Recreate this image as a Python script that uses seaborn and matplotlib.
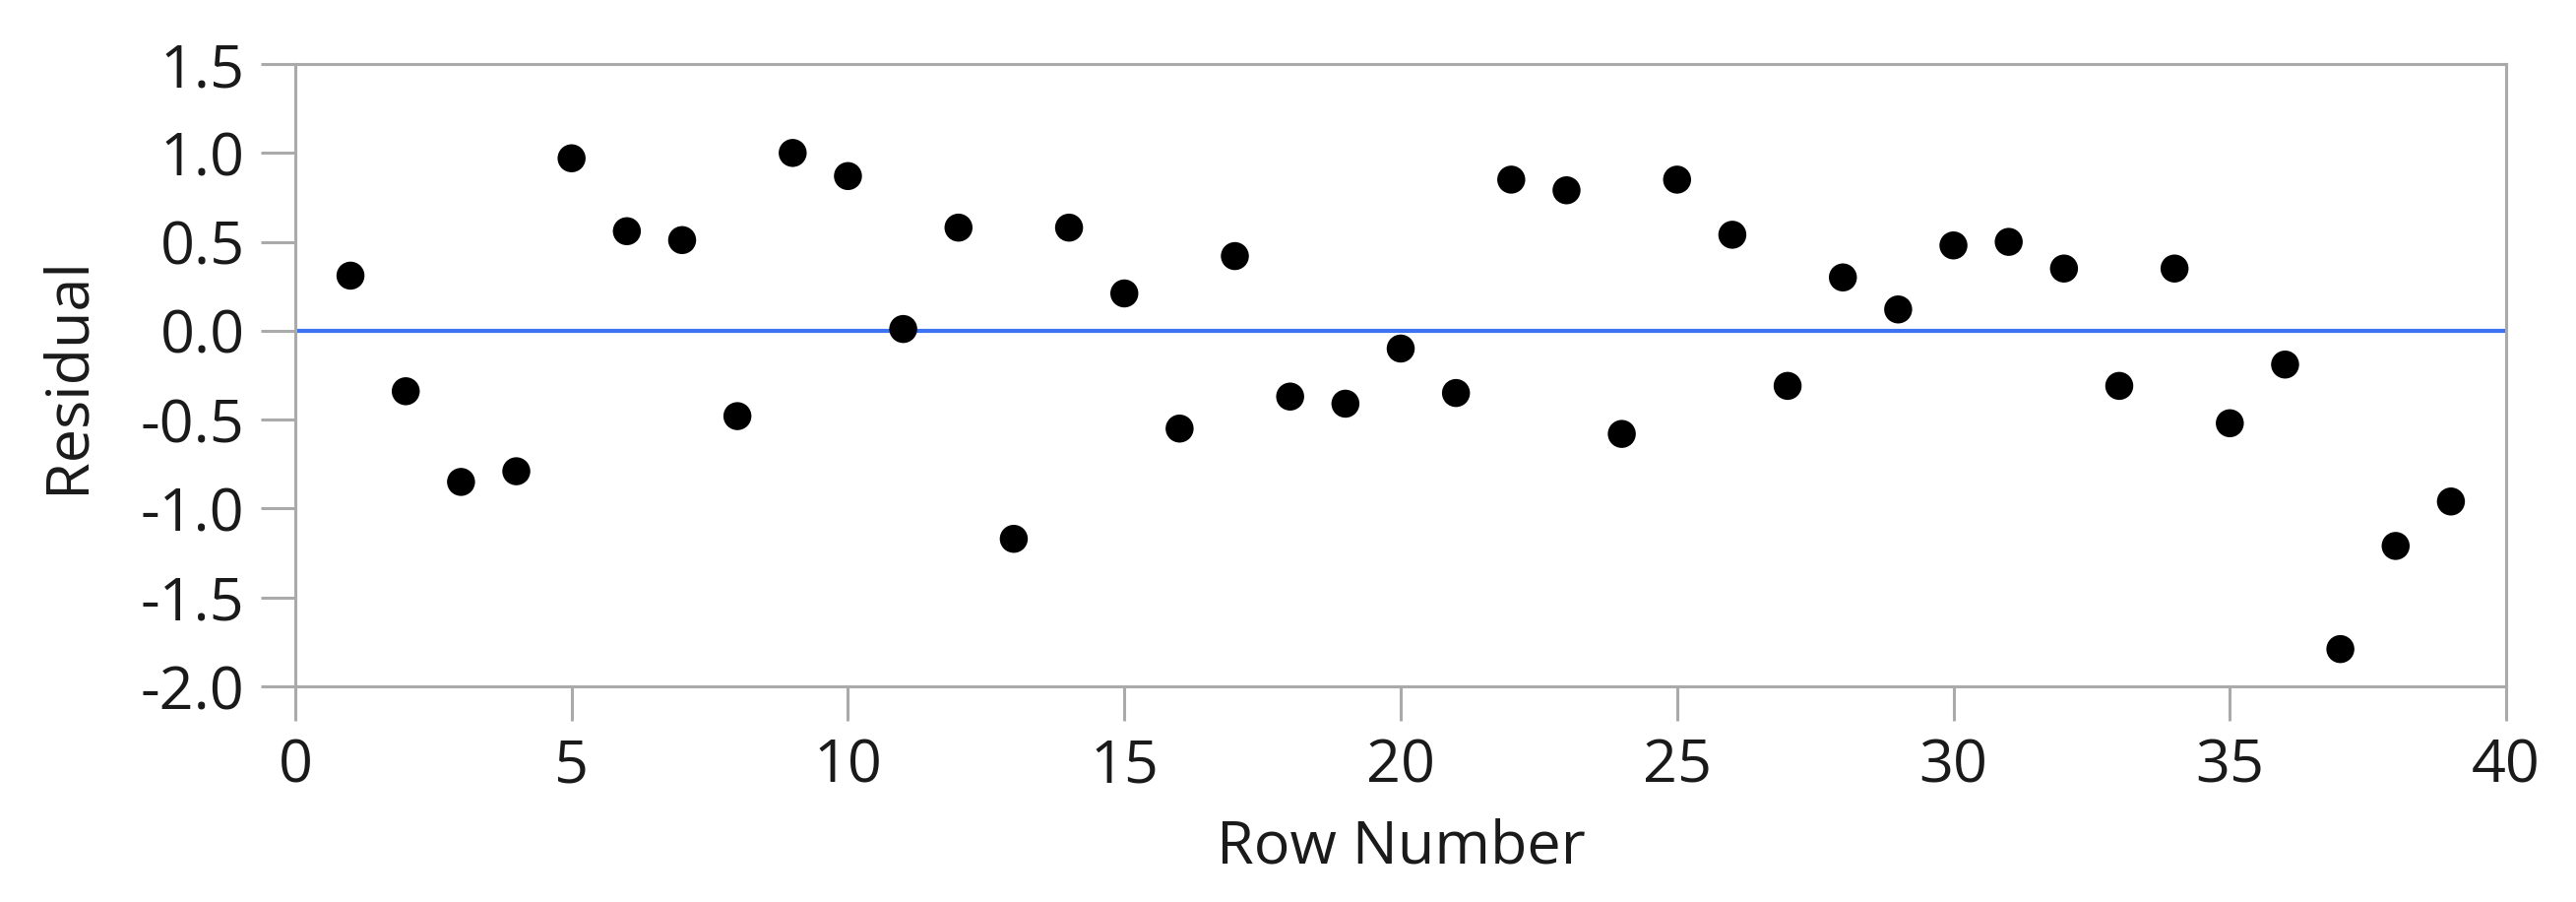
import matplotlib
matplotlib.use("Agg")
import matplotlib.pyplot as plt
import seaborn as sns
import pandas as pd

row_number = list(range(1, 40))
residual = [0.31, -0.34, -0.85, -0.79, 0.97, 0.56, 0.51, -0.48, 1.00, 0.87,
            0.01, 0.58, -1.17, 0.58, 0.21, -0.55, 0.42, -0.37, -0.41, -0.10,
            -0.35, 0.85, 0.79, -0.58, 0.85, 0.54, -0.31, 0.30, 0.12, 0.48,
            0.50, 0.35, -0.31, 0.35, -0.52, -0.19, -1.79, -1.21, -0.96]
x_ticks = [0, 5, 10, 15, 20, 25, 30, 35, 40]
y_ticks = [-2.0, -1.5, -1.0, -0.5, 0.0, 0.5, 1.0, 1.5]

df = pd.DataFrame({"Row Number": row_number, "Residual": residual})

sns.set_theme(style="white")
plt.rcParams['font.family'] = ['Open Sans', 'DejaVu Sans']

fig = plt.figure(figsize=(26.17, 9.16), dpi=100)
ax = fig.add_axes([0.1146, 0.239, 0.9729 - 0.1146, 0.929 - 0.239])

ax.axhline(0, color="#3d72f2", linewidth=3, zorder=1)
sns.scatterplot(data=df, x="Row Number", y="Residual", ax=ax, color="black",
                s=420, edgecolor="none", zorder=3, legend=False)

ax.set_xlim(0, 40)
ax.set_ylim(-2.0, 1.5)
ax.set_xticks(x_ticks)
ax.set_yticks(y_ticks)
ax.set_xticklabels([str(v) for v in x_ticks])
ax.set_yticklabels([f"{v:.1f}" for v in y_ticks])

for sp in ax.spines.values():
    sp.set_color("#aaaaaa")
    sp.set_linewidth(2.2)
    sp.set_visible(True)

ax.tick_params(axis="both", which="major", direction="out", length=25, width=2.2,
               color="#aaaaaa", labelsize=44, labelcolor="#1a1a1a", pad=12,
               left=True, bottom=True)
ax.set_xlabel("Row Number", fontsize=44, color="#1a1a1a", labelpad=16)
ax.set_ylabel("Residual", fontsize=44, color="#1a1a1a", labelpad=32)

fig.savefig("out.png", dpi=100, facecolor="white")
